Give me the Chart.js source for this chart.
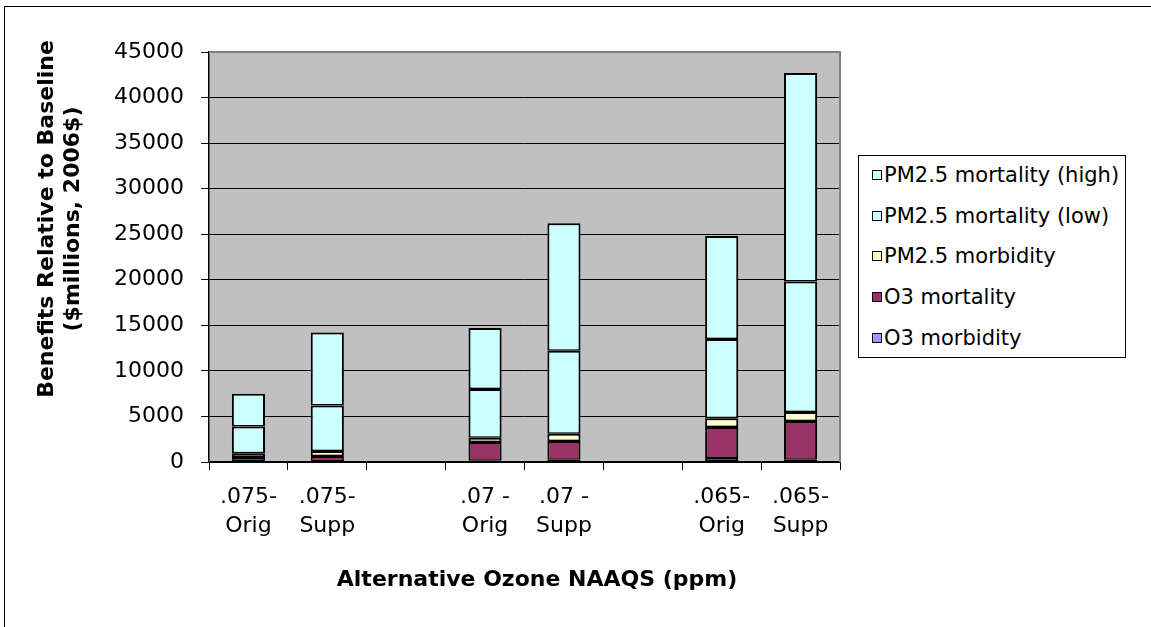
<!DOCTYPE html>
<html>
<head>
<meta charset="utf-8">
<script src="https://cdn.jsdelivr.net/npm/chart.js@4.4.0/dist/chart.umd.min.js"></script>
<style>
  body { margin: 0; background: #fff; overflow: hidden; }
  #wrap { position: relative; width: 1151px; height: 627px; overflow: hidden; }
  #frame { position: absolute; left: 4px; top: 6px; width: 1200px; height: 700px; border: 1px solid #000; }
  #myChart { position: absolute; left: 0; top: 0; }
  #legend {
    position: absolute; left: 858px; top: 155px; height: 203px;
    border: 1px solid #000; background: #fff; box-sizing: border-box;
    padding: 0 6px 0 13px; font-family: "DejaVu Sans"; font-size: 21px; color: #000;
  }
  #legend .row { height: 40.6px; display: flex; align-items: center; white-space: nowrap; }
  #legend .row:first-child { margin-top: -1px; }
  #legend .sw { width: 8px; height: 8px; border: 1.5px solid #000; margin-right: 2px; }
</style>
</head>
<body>
<div id="wrap">
  <div id="frame"></div>
  <canvas id="myChart" width="1151" height="627"></canvas>
  <div id="legend"></div>
</div>
<script>
// categorias del eje X (las vacias son huecos entre grupos)
const categorias = [[".075-", "Orig"], [".075-", "Supp"], "", [".07 -", "Orig"], [".07 -", "Supp"], "", [".065-", "Orig"], [".065-", "Supp"]];

// valores de cada segmento (millones de $ 2006), de abajo hacia arriba
const o3Morbidity = [50, 50, null, 150, 250, null, 450, 250];
const o3Mortality = [500, 600, null, 2050, 2050, null, 3400, 4250];
const pmMorbidity = [400, 550, null, 450, 800, null, 950, 1000];
const pmMortalityLow = [2950, 5000, null, 5350, 9100, null, 8700, 14300];
const pmMortalityHigh = [3600, 8000, null, 6700, 14000, null, 11300, 22900];

const yTicks = [0, 5000, 10000, 15000, 20000, 25000, 30000, 35000, 40000, 45000];

const tituloX = "Alternative Ozone NAAQS (ppm)";
const tituloY = ["Benefits Relative to Baseline", "($millions, 2006$)"];

const fuente = "DejaVu Sans";

function serie(label, data, color) {
  return {
    label: label,
    data: data,
    backgroundColor: color,
    borderColor: "#000",
    borderWidth: { left: 2, right: 2, top: 2, bottom: 1.5 },
    borderSkipped: false,
    barPercentage: 0.42,
    categoryPercentage: 1,
  };
}

const datasets = [
  serie("O3 morbidity", o3Morbidity, "#9999FF"),
  serie("O3 mortality", o3Mortality, "#993366"),
  serie("PM2.5 morbidity", pmMorbidity, "#FFFFCC"),
  serie("PM2.5 mortality (low)", pmMortalityLow, "#CCFFFF"),
  serie("PM2.5 mortality (high)", pmMortalityHigh, "#CCFFFF"),
];

// fondo gris del area de trazado, borde y titulos de ejes
const plotArea = {
  id: "plotArea",
  beforeDraw(chart) {
    const { ctx, chartArea: a } = chart;
    ctx.save();
    ctx.fillStyle = "#C0C0C0";
    ctx.fillRect(a.left, a.top, a.right - a.left, a.bottom - a.top);
    ctx.restore();
  },
  afterDraw(chart) {
    const { ctx, chartArea: a } = chart;
    ctx.save();
    ctx.strokeStyle = "#808080";
    ctx.lineWidth = 2;
    ctx.beginPath();
    ctx.moveTo(a.left, a.top);
    ctx.lineTo(a.right, a.top);
    ctx.lineTo(a.right, a.bottom);
    ctx.stroke();

    ctx.fillStyle = "#000";
    ctx.font = "bold 22px '" + fuente + "'";
    ctx.textAlign = "center";
    ctx.textBaseline = "middle";
    ctx.fillText(tituloX, 537, 580);

    ctx.translate(47, 219);
    ctx.rotate(-Math.PI / 2);
    tituloY.forEach((t, i) => ctx.fillText(t, 0, i * 26));
    ctx.restore();
  },
};

const config = {
  type: "bar",
  data: { labels: categorias, datasets: datasets },
  options: {
    responsive: false,
    animation: false,
    layout: { padding: { left: 0, top: 52, right: 311, bottom: 0 } },
    plugins: { legend: { display: false }, tooltip: { enabled: false } },
    scales: {
      x: {
        stacked: true,
        grid: { offset: true, drawOnChartArea: false, drawTicks: true, tickLength: 8, color: "#000", lineWidth: 1 },
        border: { display: true, color: "#000", width: 1.5 },
        ticks: { color: "#000", padding: 13, maxRotation: 0, autoSkip: false,
                 font: { family: fuente, size: 22, lineHeight: 1.3 } },
        afterFit(scale) { scale.height = 165; },
      },
      y: {
        stacked: true,
        min: 0,
        max: 45000,
        afterBuildTicks(scale) { scale.ticks = yTicks.map((v) => ({ value: v })); },
        grid: { color: "#000", lineWidth: 1, tickLength: 8 },
        border: { display: true, color: "#000", width: 1.5 },
        ticks: { color: "#000", padding: 17, font: { family: fuente, size: 22 },
                 callback: (v) => String(v) },
        afterFit(scale) { scale.width = 209; },
      },
    },
  },
  plugins: [plotArea],
};

const myChart = new Chart(document.getElementById("myChart"), config);

// leyenda en HTML, en orden inverso a la pila
const legendDiv = document.getElementById("legend");
datasets.slice().reverse().forEach((d) => {
  const row = document.createElement("div");
  row.className = "row";
  row.innerHTML = `<span class="sw" style="background:${d.backgroundColor}"></span><span>${d.label}</span>`;
  legendDiv.appendChild(row);
});
</script>
</body>
</html>
